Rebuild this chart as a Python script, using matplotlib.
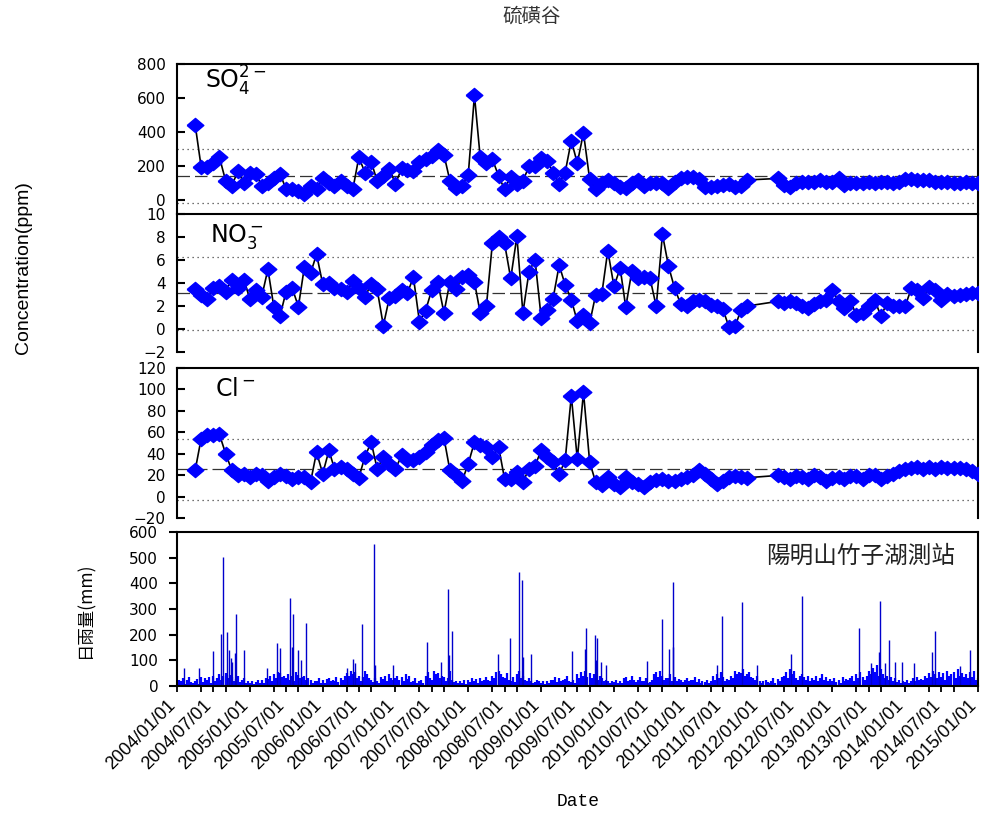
import pandas as pd
import numpy as np
import matplotlib
matplotlib.use("Agg")
import matplotlib.pyplot as plt
import matplotlib.dates as mdates
import matplotlib.transforms as mtransforms

# monthly sampling, no samples Dec 2011 - Mar 2012
dates_a = pd.date_range("2004-04-01", "2011-11-01", freq="MS")
dates_b = pd.date_range("2012-04-01", "2015-01-01", freq="MS")

so4_a = [444, 196, 196, 215, 251, 113, 83, 168, 103, 158,
         152, 83, 103, 132, 156, 63, 63, 53, 38, 83,
         63, 132, 103, 83, 113, 83, 63, 251, 162, 225,
         113, 142, 182, 97, 186, 176, 172, 221, 241, 261,
         294, 267, 113, 69, 83, 148, 616, 251, 217, 241,
         142, 63, 138, 97, 113, 198, 198, 247, 231, 162,
         97, 162, 350, 217, 395, 122, 63, 98, 118, 98,
         78, 69, 98, 118, 82, 98, 102, 98, 69, 108,
         127, 137, 137, 122, 78, 78, 84, 88, 94, 78,
         84, 118]
so4_b = [127, 88, 78, 98, 108, 108, 108, 118, 108, 108,
         127, 88, 98, 102, 102, 108, 98, 108, 108, 102,
         108, 122, 122, 118, 118, 118, 108, 108, 108, 102,
         102, 105, 100, 102]

no3_a = [3.5, 3.0, 2.6, 3.6, 3.75, 3.25, 4.3, 3.6, 4.3, 2.6,
         3.35, 2.8, 5.2, 1.9, 1.15, 3.25, 3.55, 1.95, 5.4, 4.85,
         6.5, 3.9, 4.0, 3.6, 3.45, 3.2, 4.15, 3.6, 2.8, 3.9,
         3.45, 0.3, 2.7, 2.85, 3.4, 3.1, 4.5, 0.65, 1.6, 3.35,
         4.1, 1.4, 4.1, 3.45, 4.55, 4.7, 4.1, 1.4, 2.0, 7.45,
         8.0, 7.45, 4.4, 8.05, 1.4, 5.0, 6.0, 0.95, 1.65, 2.6,
         5.55, 3.85, 2.55, 0.66, 1.24, 0.5, 2.97, 3.06, 6.82, 3.7,
         5.3, 1.9, 5.08, 4.4, 4.5, 4.4, 1.96, 8.24, 5.5, 3.55,
         2.2, 2.0, 2.4, 2.48, 2.4, 2.1, 1.96, 1.73, 0.17, 0.28,
         1.67, 2.0]
no3_b = [2.4, 2.25, 2.4, 2.25, 2.0, 1.8, 2.2, 2.4, 2.55, 3.4,
         2.4, 1.8, 2.4, 1.24, 1.4, 1.96, 2.55, 1.1, 2.25, 2.0,
         2.0, 2.0, 3.55, 3.4, 2.68, 3.64, 3.35, 2.55, 3.06, 2.83,
         3.0, 3.06, 3.1, 3.12]

cl_a = [24.4, 53.9, 57, 57, 58, 40, 25, 19.7, 21.3, 18.2,
        21.3, 19.7, 15, 18.2, 20.7, 18.8, 16.6, 18.2, 18.2, 13.5,
        41.5, 21.3, 43, 26, 27.5, 26, 21.3, 17.6, 37.4, 50.8,
        26, 36.8, 30.6, 26, 38.4, 33.7, 33.7, 36.8, 41.5, 47.7,
        53, 54.8, 24.4, 19.7, 14.5, 30.6, 50.8, 47.7, 46, 36.8,
        46.7, 16.6, 16.6, 22.8, 13.5, 26, 29, 43, 36.8, 32,
        20.7, 33.7, 94, 35, 97.3, 32.2, 13.5, 10.4, 18.2, 12,
        8.9, 18.2, 13.5, 12, 8.9, 13.5, 15.7, 16.6, 15, 15,
        16.6, 18.2, 19.7, 24.4, 20.7, 16.6, 12, 15, 18.2, 18.8,
        18.2, 17.6]
cl_b = [19.7, 18.2, 16.6, 18.8, 18.2, 16.6, 19.7, 18.2, 15, 17.6,
        18.2, 16.6, 18.8, 18.8, 16.6, 19.7, 19.7, 16.6, 18.8, 20.7,
        24, 26, 27, 27.5, 26, 27.5, 26, 27.5, 27, 26.5,
        27, 26, 24, 21.3]

# mean, mean+sd, mean-sd lines
so4_stats = (141, 300, -18)
no3_stats = (3.13, 6.26, -0.05)
cl_stats = (25.5, 54, -3)

# daily rain: background values on the 1st, 11th, 21st of each month
rain_base = [
    12, 25, 18, 30, 8, 22, 36, 15, 10, 20, 28, 6, 35, 14, 30, 25, 36, 12, 40, 18, 30, 45, 22, 38, 50, 30, 42, 35, 20, 28, 40, 15, 25, 30, 12, 18,
    10, 18, 8, 15, 25, 12, 22, 10, 30, 28, 40, 20, 45, 30, 56, 50, 35, 40, 30, 45, 25, 38, 20, 55, 42, 30, 35, 40, 22, 30, 25, 12, 20, 18, 30, 10,
    22, 12, 28, 30, 18, 25, 20, 35, 15, 32, 25, 40, 50, 38, 60, 45, 56, 30, 40, 20, 35, 60, 45, 30, 25, 15, 30, 20, 12, 35, 28, 40, 18, 45, 30, 22,
    30, 40, 25, 35, 20, 45, 28, 38, 15, 20, 30, 12, 18, 25, 10, 40, 55, 30, 25, 60, 45, 50, 30, 40, 35, 20, 30, 58, 25, 15, 20, 10, 18, 12, 22, 8,
    25, 15, 30, 18, 28, 12, 30, 20, 25, 35, 22, 18, 40, 30, 55, 60, 45, 35, 30, 50, 25, 20, 35, 15, 45, 60, 30, 38, 25, 20, 30, 18, 12, 15, 25, 20,
    10, 20, 8, 18, 12, 25, 22, 35, 15, 30, 20, 25, 28, 40, 18, 15, 25, 10, 45, 30, 55, 40, 60, 35, 50, 30, 45, 35, 25, 40, 30, 20, 25, 20, 12, 18,
    15, 25, 10, 20, 12, 30, 35, 18, 25, 40, 22, 15, 25, 35, 18, 20, 30, 12, 15, 25, 45, 55, 35, 60, 40, 25, 30, 30, 45, 20, 35, 20, 28, 25, 15, 22,
    30, 18, 25, 22, 35, 15, 28, 12, 20, 15, 25, 10, 20, 38, 25, 45, 30, 55, 35, 20, 28, 25, 40, 30, 60, 45, 55, 50, 65, 40, 45, 55, 35, 30, 25, 40,
    20, 12, 18, 25, 15, 10, 18, 30, 12, 28, 20, 35, 40, 55, 30, 65, 45, 60, 30, 25, 40, 45, 35, 25, 38, 20, 30, 25, 40, 18, 30, 45, 22, 35, 20, 28,
    20, 30, 15, 25, 12, 35, 18, 28, 22, 30, 40, 20, 45, 30, 55, 35, 25, 40, 60, 45, 70, 55, 80, 40, 65, 45, 30, 40, 25, 35, 20, 30, 15, 25, 12, 20,
    15, 25, 10, 20, 30, 18, 35, 22, 28, 25, 40, 30, 50, 35, 60, 45, 30, 55, 35, 50, 25, 60, 40, 45, 55, 30, 65, 40, 50, 35, 45, 30, 55, 35, 60, 25,
    30, 20, 40]

# heavy rain days
spike_dates = ["2004-02-03", "2004-04-21", "2004-07-01", "2004-08-10", "2004-08-20", "2004-09-09",
               "2004-09-19", "2004-09-29", "2004-10-04", "2004-10-19", "2004-10-24", "2004-12-03",
               "2005-03-28", "2005-05-17", "2005-06-01", "2005-07-21", "2005-07-31", "2005-08-05",
               "2005-08-30", "2005-09-14", "2005-10-09", "2006-05-02", "2006-06-01", "2006-06-11",
               "2006-07-16", "2006-09-14", "2006-09-19", "2006-12-18", "2007-06-06", "2007-08-15",
               "2007-09-19", "2007-09-24", "2007-10-09", "2008-05-31", "2008-07-30", "2008-09-13",
               "2008-09-28", "2008-10-03", "2008-11-12", "2009-06-05", "2009-08-09", "2009-08-14",
               "2009-09-28", "2009-10-03", "2009-10-08", "2009-10-28", "2009-11-22", "2010-06-15",
               "2010-08-29", "2010-10-03", "2010-10-23", "2010-10-25", "2011-05-31", "2011-06-25",
               "2011-10-03", "2011-12-17", "2012-06-09", "2012-08-03", "2013-05-15", "2013-07-14",
               "2013-08-23", "2013-08-28", "2013-09-22", "2013-10-12", "2013-11-11", "2013-12-16",
               "2014-02-14", "2014-05-15", "2014-05-30", "2014-10-02", "2014-11-21"]
spike_mm = [69, 69, 136, 201, 504, 209, 140, 108, 95, 127, 279, 140,
            71, 166, 147, 342, 153, 279, 140, 101, 244,
            69, 105, 88, 240, 555, 82, 82,
            173, 95, 377, 121, 214,
            125, 186, 445, 413, 112, 125,
            136, 144, 227, 199, 101, 186, 92, 82,
            97, 261, 144, 406, 153,
            82, 273, 329, 82,
            123, 351,
            225, 88, 134, 331, 88, 179, 95, 95,
            88, 134, 214, 79, 140]

plt.rcParams['font.family'] = 'DejaVu Sans'
plt.rcParams['mathtext.default'] = 'regular'
cjk = ['Noto Sans CJK TC', 'DejaVu Sans']

x0, x1 = pd.Timestamp("2004-01-01"), pd.Timestamp("2015-01-01")
sample_dates = dates_a.append(dates_b)
diamond = [(-1, 0), (0, 0.85), (1, 0), (0, -0.85), (-1, 0)]

fig = plt.figure(figsize=(9.81, 8.14), dpi=100)


def box(top, bottom):
    return [177 / 981, 1 - bottom / 814, 801 / 981, (bottom - top) / 814]


def conc_panel(ax, values, ylim, yticks, stats, label, lx, ly):
    mean, hi, lo = stats
    ax.axhline(hi, color='#444444', lw=0.9, ls=(0, (1, 3)), zorder=1)
    ax.axhline(lo, color='#444444', lw=0.9, ls=(0, (1, 3)), zorder=1)
    ax.axhline(mean, color='#333333', lw=0.9, ls=(0, (10, 4)), zorder=1)
    ax.plot(sample_dates, values, color='black', lw=1.2, marker=diamond, ms=12,
            mfc='#0000ff', mec='#0000ff', zorder=3)
    ax.set_xlim(x0, x1)
    ax.set_ylim(ylim)
    ax.set_yticks(yticks)
    ax.spines['bottom'].set_visible(False)
    for s in ['left', 'top', 'right']:
        ax.spines[s].set_linewidth(1.5)
    ax.tick_params(axis='x', bottom=False, labelbottom=False)
    ax.tick_params(axis='y', direction='in', length=5.5, width=1.5, pad=8, labelsize=11)
    ax.text(lx, ly, label, transform=ax.transAxes, fontsize=17, va='baseline')


ax_so4 = fig.add_axes(box(64, 214))
ax_no3 = fig.add_axes(box(214, 352))
ax_cl = fig.add_axes(box(368, 518))
ax_rain = fig.add_axes(box(532, 686))

conc_panel(ax_so4, so4_a + so4_b, (-82, 800), [0, 200, 400, 600, 800], so4_stats,
           r'SO$_4^{2-}$', 0.035, 0.833)
conc_panel(ax_no3, no3_a + no3_b, (-2, 10), [-2, 0, 2, 4, 6, 8, 10], no3_stats,
           r'NO$_3^-$', 0.041, 0.797)
conc_panel(ax_cl, cl_a + cl_b, (-20, 120), [-20, 0, 20, 40, 60, 80, 100, 120], cl_stats,
           r'Cl$^-$', 0.047, 0.813)

# rain panel
month_starts = pd.date_range("2004-01-01", "2015-01-01", freq="MS")
base_dates = pd.DatetimeIndex([d + pd.Timedelta(days=k) for d in month_starts for k in (0, 10, 20)])
ax_rain.vlines(base_dates, 0, rain_base, color='#0000ff', lw=1.6)
ax_rain.vlines(pd.to_datetime(spike_dates), 0, spike_mm, color='#0000cc', lw=1.0)
ax_rain.set_xlim(x0, x1)
ax_rain.set_ylim(0, 600)
ax_rain.set_yticks(range(0, 601, 100))
for s in ax_rain.spines.values():
    s.set_linewidth(1.5)
ax_rain.tick_params(axis='y', direction='out', length=5.5, width=1.5, pad=8, labelsize=11)

major = pd.date_range("2004-01-01", "2015-01-01", freq="6MS")
ax_rain.set_xticks(major)
ax_rain.set_xticklabels([d.strftime('%Y/%m/%d') for d in major], rotation=45,
                        ha='right', va='top', fontsize=13, family='Liberation Sans')
ax_rain.xaxis.set_minor_locator(mdates.MonthLocator(bymonth=[5, 9]))
ax_rain.tick_params(axis='x', which='both', direction='out', length=4, width=1.3, pad=4)
shift = mtransforms.ScaledTranslation(0.02, 0, fig.dpi_scale_trans)
for lab in ax_rain.get_xticklabels():
    lab.set_transform(lab.get_transform() + shift)

ax_rain.text(0.971, 0.844, '陽明山竹子湖測站', transform=ax_rain.transAxes, ha='right',
             va='center', fontsize=17, family=cjk, color='#222222')

fig.text(532 / 981, 1 - 16 / 814, '硫磺谷', ha='center', va='center', fontsize=14,
         family=cjk, color='#333333')
fig.text(24 / 981, 1 - 268 / 814, 'Concentration(ppm)', rotation=90, ha='center',
         va='center', fontsize=14, family='Liberation Sans')
fig.text(85 / 981, 1 - 610 / 814, '日雨量(mm)', rotation=90, ha='center', va='center',
         fontsize=12.5, family=cjk)
fig.text(578 / 981, 1 - 801 / 814, 'Date', ha='center', va='center', fontsize=13,
         family='Liberation Mono')

fig.savefig('out.png', dpi=100)
